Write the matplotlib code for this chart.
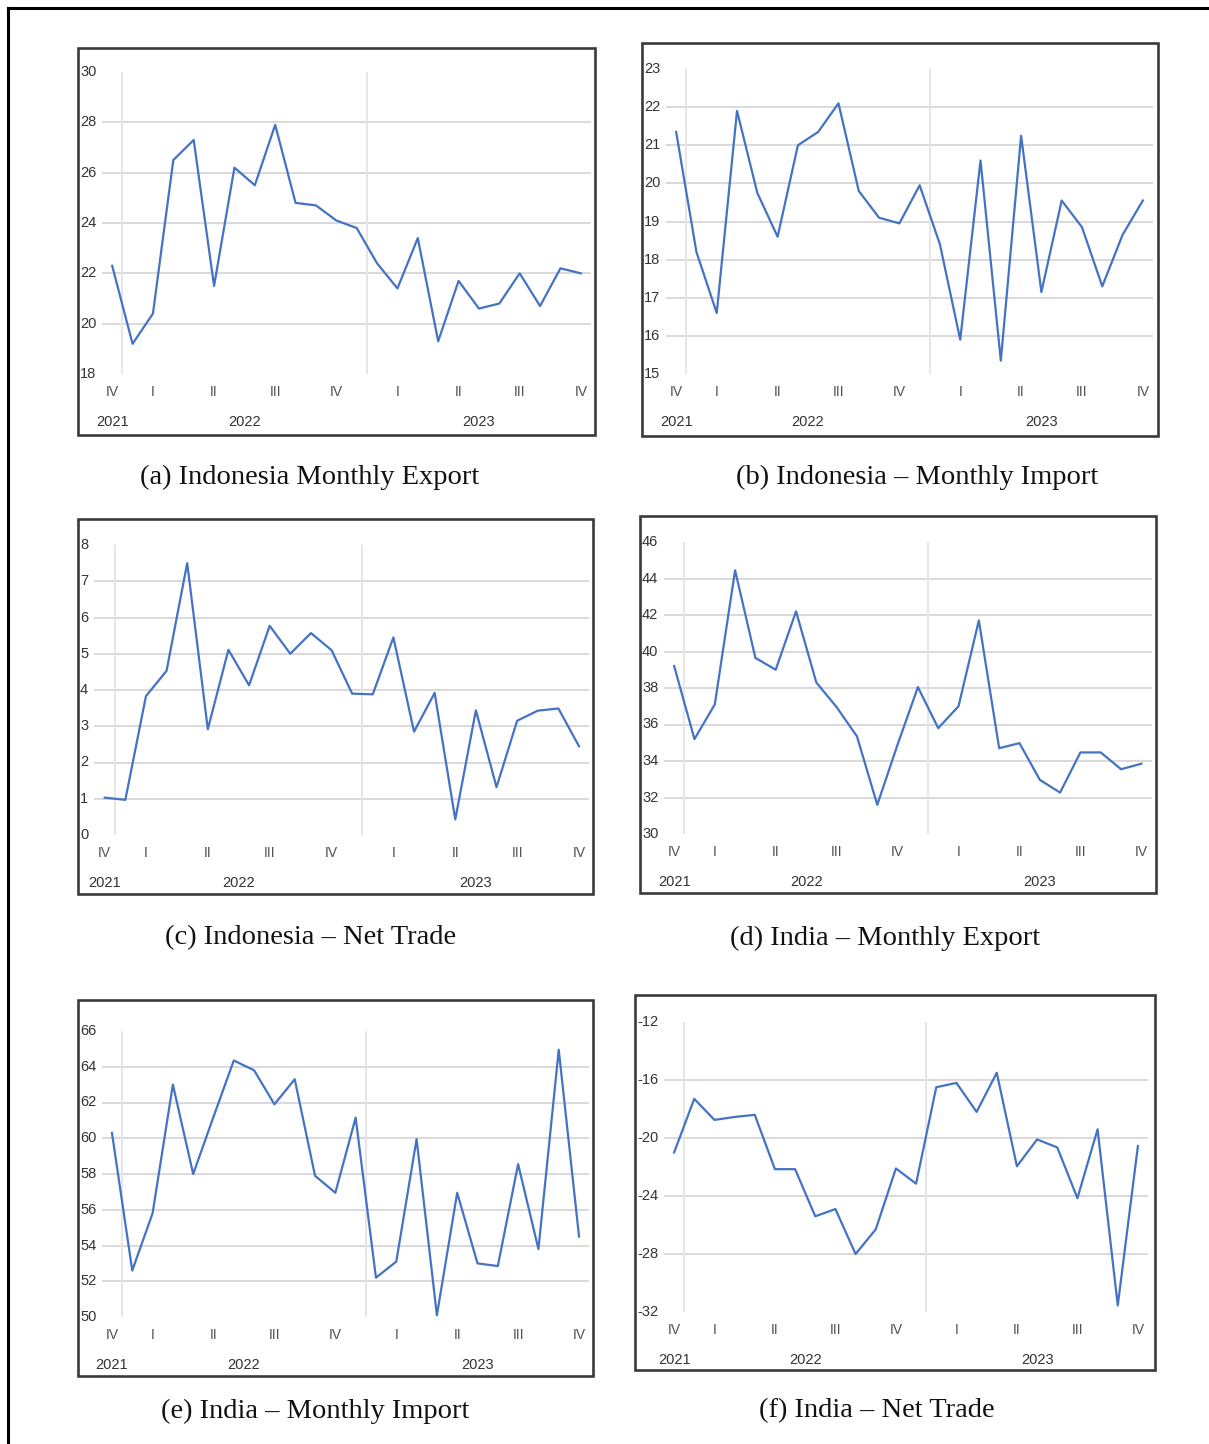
import matplotlib
matplotlib.use("Agg")
import matplotlib.pyplot as plt
from matplotlib.patches import Rectangle
from matplotlib.lines import Line2D
from matplotlib.transforms import blended_transform_factory

W, H = 1209, 1444
BLUE = "#4472C4"
GRID = "#d9d9d9"
VGRID = "#e6e6e6"
TXT = "#333333"
QTXT = "#505050"

# Monthly series, Dec 2021 .. Nov 2023 (24 months)
idn_export = [22.3, 19.2, 20.4, 26.5, 27.3, 21.5, 26.2, 25.5, 27.9, 24.8, 24.7, 24.1,
              23.8, 22.4, 21.4, 23.4, 19.3, 21.7, 20.6, 20.8, 22.0, 20.7, 22.2, 22.0]
idn_import = [21.35, 18.2, 16.6, 21.9, 19.75, 18.6, 21.0, 21.35, 22.1, 19.8, 19.1, 18.95,
              19.95, 18.4, 15.9, 20.6, 15.35, 21.25, 17.15, 19.55, 18.85, 17.3, 18.65, 19.55]
idn_net = [1.03, 0.97, 3.83, 4.53, 7.5, 2.92, 5.11, 4.13, 5.77, 5.0, 5.57, 5.1,
           3.9, 3.88, 5.45, 2.85, 3.92, 0.43, 3.44, 1.32, 3.15, 3.43, 3.49, 2.45]
ind_export = [39.2, 35.2, 37.1, 44.45, 39.65, 39.0, 42.2, 38.3, 36.95, 35.35, 31.6, 34.9,
              38.05, 35.8, 37.0, 41.7, 34.7, 34.98, 32.97, 32.27, 34.47, 34.47, 33.55, 33.85]
ind_import = [60.3, 52.6, 55.8, 63.0, 58.0, 61.2, 64.35, 63.8, 61.9, 63.3, 57.9, 56.95,
              61.15, 52.2, 53.1, 59.95, 50.1, 56.95, 53.0, 52.85, 58.55, 53.8, 64.95, 54.5]
ind_net = [-21.0, -17.3, -18.75, -18.55, -18.4, -22.15, -22.15, -25.4, -24.9, -28.0, -26.3, -22.1,
           -23.15, -16.5, -16.2, -18.2, -15.5, -21.95, -20.1, -20.65, -24.15, -19.4, -31.55, -20.55]

quarter_labels = ["IV", "I", "II", "III", "IV", "I", "II", "III", "IV"]
quarter_pos = [0, 2, 5, 8, 11, 14, 17, 20, 23]
year_labels = ["2021", "2022", "2023"]
year_pos = [0, 6.5, 18]
year_breaks = [0.5, 12.5]

captions = ["(a) Indonesia Monthly Export", "(b) Indonesia \u2013 Monthly Import",
            "(c) Indonesia \u2013 Net Trade", "(d) India \u2013 Monthly Export",
            "(e) India \u2013 Monthly Import", "(f) India \u2013 Net Trade"]
series = [idn_export, idn_import, idn_net, ind_export, ind_import, ind_net]
yticks = [list(range(18, 31, 2)), list(range(15, 24)), list(range(0, 9)),
          list(range(30, 47, 2)), list(range(50, 67, 2)), list(range(-32, -11, 4))]

# layout in pixels: box (x0, y0, x1, y1), plot area (x0, x1, ytop, ybottom), caption centre
boxes = [(78, 48, 595, 435), (642, 43, 1158, 436), (78, 519, 593, 894),
         (640, 516, 1156, 893), (78, 1000, 593, 1376), (635, 995, 1155, 1370)]
plots = [(102, 591, 72, 374), (666, 1153, 69, 374), (94.4, 589.3, 545, 835),
         (664, 1151.5, 542, 834), (101.8, 589.2, 1031, 1317), (664, 1148, 1022, 1312)]
cap_xy = [(310, 477), (917, 477), (311, 938), (885, 938), (315, 1411), (877, 1411)]


def fx(x):
    return x / W


def fy(y):
    return 1 - y / H


fig = plt.figure(figsize=(W / 100, H / 100), dpi=100)
fig.patch.set_facecolor("white")

# outer frame (top and left edges visible)
fig.add_artist(Line2D([fx(8), 1.0], [fy(7.5), fy(7.5)], color="black", lw=2.2))
fig.add_artist(Line2D([fx(8), fx(8)], [fy(7.5), 0.0], color="black", lw=2.2))

for i in range(6):
    bx0, by0, bx1, by1 = boxes[i]
    px0, px1, pyt, pyb = plots[i]
    vals = series[i]
    ticks = yticks[i]

    fig.add_artist(Rectangle((fx(bx0), fy(by1)), fx(bx1 - bx0), (by1 - by0) / H,
                             fill=False, ec="#3a3a3a", lw=1.9))

    ax = fig.add_axes([fx(px0), fy(pyb), fx(px1 - px0), (pyb - pyt) / H])
    ax.set_facecolor("none")
    for s in ax.spines.values():
        s.set_visible(False)
    ax.set_xlim(-0.5, len(vals) - 0.5)
    ax.set_ylim(ticks[0], ticks[-1])
    for t in ticks[1:-1]:
        ax.axhline(t, color=GRID, lw=1.4, zorder=1)
    for b in year_breaks:
        ax.axvline(b, color=VGRID, lw=1.4, zorder=1)
    ax.plot(range(len(vals)), vals, color=BLUE, lw=1.6, zorder=3)

    ax.set_yticks([])
    ax.set_xticks(quarter_pos)
    ax.set_xticklabels(quarter_labels, fontsize=10, color=QTXT, family="Liberation Sans")
    ax.tick_params(axis="x", length=0, pad=8)

    # y tick labels sit at the left edge of the frame
    tr = blended_transform_factory(fig.transFigure, ax.transData)
    for t in ticks:
        ax.text(fx(bx0 + 2), t, str(t), transform=tr, ha="left", va="center",
                fontsize=10.5, color=TXT, family="Liberation Sans", clip_on=False)

    tr2 = blended_transform_factory(ax.transData, fig.transFigure)
    for lab, xp in zip(year_labels, year_pos):
        ax.text(xp, fy(pyb + 48), lab, transform=tr2, ha="center", va="center",
                fontsize=10.5, color=TXT, family="Liberation Sans")

    cx, cy = cap_xy[i]
    fig.text(fx(cx), fy(cy), captions[i], ha="center", va="center",
             fontsize=20.5, color="#111111", family="Liberation Serif")

fig.savefig("out.png", dpi=100, facecolor="white")
